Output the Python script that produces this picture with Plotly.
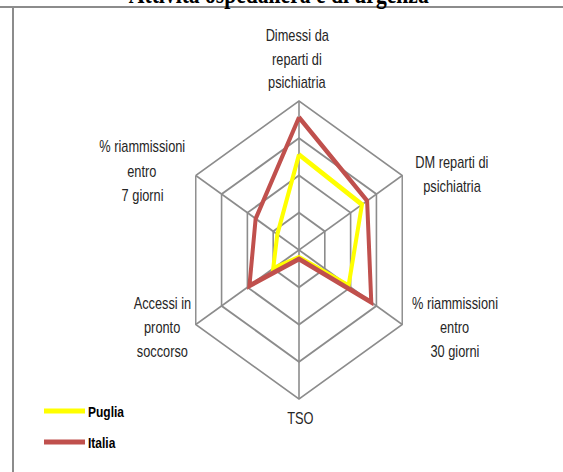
import plotly.graph_objects as go

# categories, clockwise starting from the top
categories = [
    "Dimessi da reparti di psichiatria",
    "DM reparti di psichiatria",
    "% riammissioni entro 30 giorni",
    "TSO",
    "Accessi in pronto soccorso",
    "% riammissioni entro 7 giorni",
]
puglia = [64, 61, 48, 5, 25, 21]
italia = [89, 66, 70, 6, 48, 42]
series_names = ["Puglia", "Italia"]
series_colors = ["#ffff00", "#c0504d"]

# the original picture is squeezed horizontally: build the figure wider
# and squeeze the page back with a css scaleX
W, H = 563, 472
SX = 0.8
FW = round(W / SX)
GRID = "#8c8c8c"
FONT = "Liberation Sans, Arial, sans-serif"


def px(x):
    # x in picture pixels -> paper fraction of the wide figure
    return (x / SX) / FW


def py(y):
    return 1 - y / H


def closed(vals):
    return vals + vals[:1]


fig = go.Figure()
for name, vals, color in zip(series_names, [puglia, italia], series_colors):
    fig.add_trace(go.Scatterpolar(
        r=closed(vals), theta=closed(categories), mode="lines", name=name,
        line=dict(color=color, width=5), showlegend=False,
    ))

# axis labels, one annotation per line (line spacing of the original)
labels = [
    (["Dimessi da", "reparti di", "psichiatria"], 297, 35),
    (["DM reparti di", "psichiatria"], 452, 162),
    (["% riammissioni", "entro", "30 giorni"], 455, 303),
    (["TSO"], 300, 418),
    (["Accessi in", "pronto", "soccorso"], 162, 303),
    (["% riammissioni", "entro", "7 giorni"], 142, 147),
]
annotations = []
for lines, x, y0 in labels:
    for i, line in enumerate(lines):
        annotations.append(dict(
            text=line, x=px(x), y=py(y0 + i * 24), xref="paper", yref="paper",
            xanchor="center", yanchor="middle", showarrow=False,
            font=dict(family=FONT, size=16, color="#262626"),
        ))

# title, mostly cut off by the top edge
annotations.append(dict(
    text="<b>Attività ospedaliera e di urgenza</b>", x=px(279), y=py(11),
    xref="paper", yref="paper", xanchor="center", yanchor="bottom",
    showarrow=False,
    font=dict(family="Liberation Serif, Times New Roman, serif", size=27, color="black"),
))

# chart frame (top and left edges visible)
shapes = [
    dict(type="line", xref="paper", yref="paper", x0=0, x1=1, y0=py(7), y1=py(7),
         line=dict(color=GRID, width=2)),
    dict(type="line", xref="paper", yref="paper", x0=px(13), x1=px(13), y0=py(7), y1=0,
         line=dict(color=GRID, width=2.5)),
]

# legend drawn by hand (long line samples like the original)
for i, (name, color) in enumerate(zip(series_names, series_colors)):
    y = 411 + i * 31
    shapes.append(dict(type="line", xref="paper", yref="paper",
                       x0=px(44), x1=px(85), y0=py(y), y1=py(y),
                       line=dict(color=color, width=5)))
    annotations.append(dict(
        text=f"<b>{name}</b>", x=px(86), y=py(y), xref="paper", yref="paper",
        xanchor="left", yanchor="middle", showarrow=False,
        font=dict(family=FONT, size=15, color="black"),
    ))

cx, r = 299 / SX, 149
fig.update_layout(
    width=FW, height=H,
    margin=dict(l=0, r=0, t=0, b=0),
    paper_bgcolor="white",
    plot_bgcolor="white",
    polar=dict(
        domain=dict(x=[(cx - r) / FW, (cx + r) / FW], y=[py(250 + r), py(250 - r)]),
        bgcolor="white",
        gridshape="linear",
        radialaxis=dict(range=[0, 100], dtick=25, showticklabels=False, ticks="",
                        showline=False, gridcolor=GRID, gridwidth=1.8),
        angularaxis=dict(rotation=90, direction="clockwise", showticklabels=False,
                         ticks="", showline=True, linecolor=GRID, linewidth=1.8,
                         gridcolor=GRID, gridwidth=1.8),
    ),
    showlegend=False,
    annotations=annotations,
    shapes=shapes,
)

post = (
    "document.body.style.margin='0px';"
    "var gd=document.getElementById('{plot_id}');"
    f"gd.style.transformOrigin='0 0';gd.style.transform='scaleX({SX})';"
    "document.body.style.overflow='hidden';"
)
fig.write_html("out.html", config={"displayModeBar": False}, post_script=post)
